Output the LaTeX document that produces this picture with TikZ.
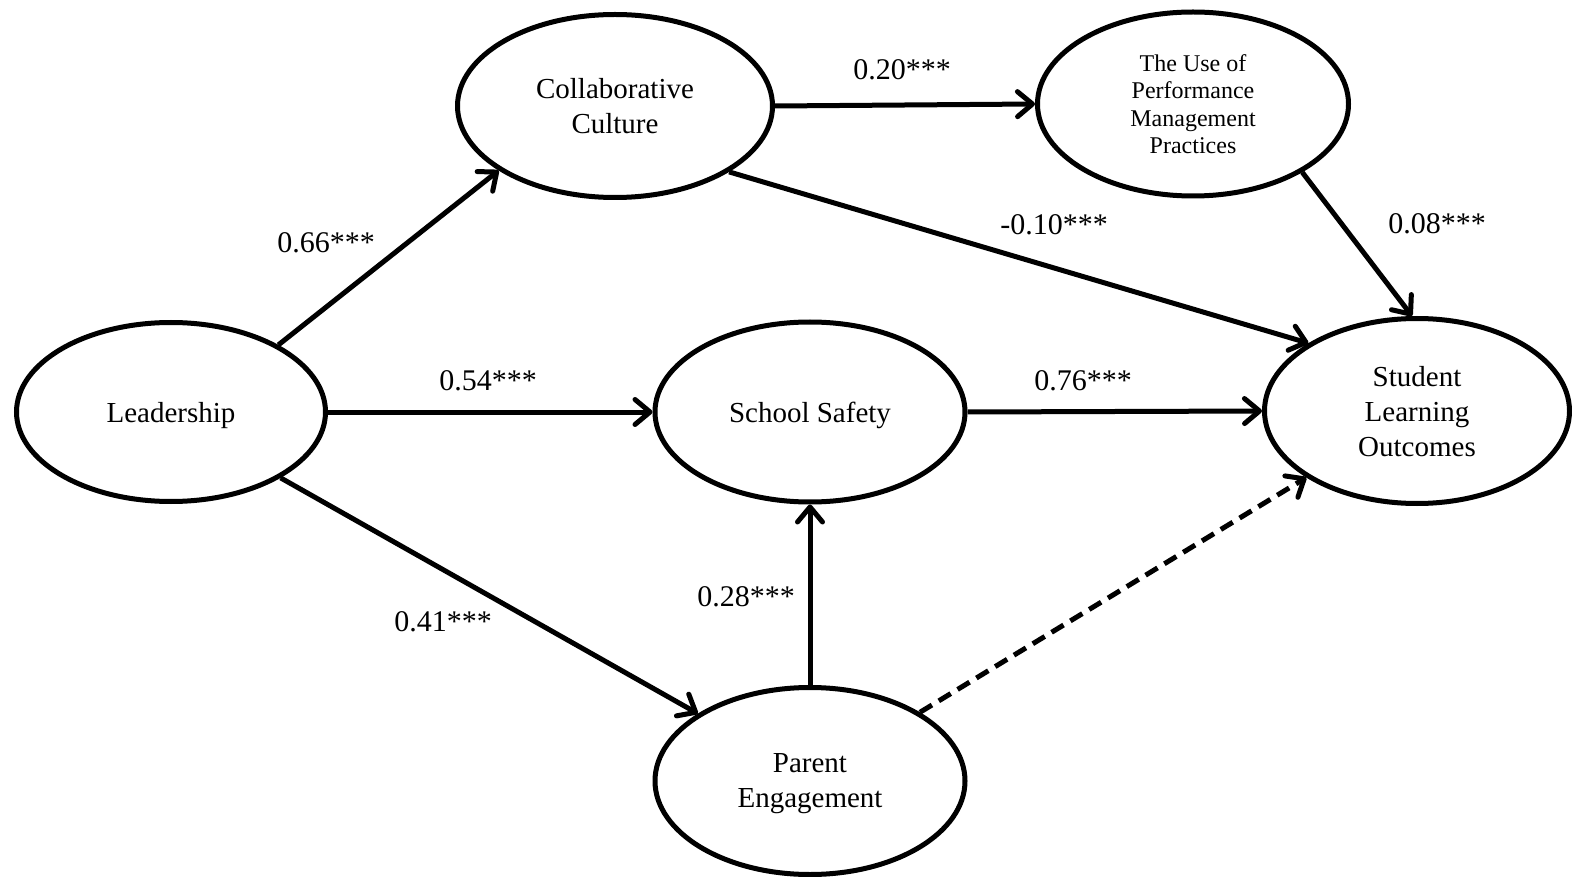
\documentclass[tikz,border=0pt]{standalone}
\usepackage{fontspec}
\setmainfont{Liberation Serif}
\usetikzlibrary{shapes.geometric,arrows.meta}
\begin{document}
\begin{tikzpicture}[x=1pt,y=-1pt,
  latent/.style={ellipse,draw,line width=5pt,inner sep=0pt,align=center,text depth=0pt,
    font=\fontsize{29}{35}\selectfont},
  path/.style={line width=5pt,-{Straight Barb[length=15pt,width=25pt,round]}},
  coef/.style={font=\fontsize{30}{36}\selectfont,inner sep=0pt}]
\useasboundingbox (0,0) rectangle (1572,877);
\node[latent,minimum width=309pt,minimum height=179pt] (lead) at (171,412) {Leadership};
\node[latent,minimum width=315pt,minimum height=183pt] (collab) at (615,106) {Collaborative\\Culture};
\node[latent,minimum width=311pt,minimum height=184pt,font=\fontsize{24}{27.5}\selectfont] (pmp) at (1193,104) {The Use of\\Performance\\Management\\Practices};
\node[latent,minimum width=310pt,minimum height=180pt] (ss) at (810,412) {School Safety};
\node[latent,minimum width=305pt,minimum height=185pt] (slo) at (1417,411) {Student\\Learning\\Outcomes};
\node[latent,minimum width=310pt,minimum height=187pt] (pe) at (810,781) {Parent\\Engagement};

\draw[path] (lead.32) -- (collab.209);
\draw[path] (lead.east) -- (ss.west);
\draw[path] (lead.-31) -- (pe.149);
\draw[path] (collab.east) -- (pmp.west);
\draw[path] (collab.-30.5) -- (slo.148.5);
\draw[path] (pmp.-32) -- (slo.93);
\draw[path] (ss.east) -- (slo.west);
\draw[path] (pe.north) -- (ss.south);
\draw[path,dash pattern=on 14pt off 8pt] (pe.32.5) -- (slo.211);

\node[coef] (c1) at (326,243) {0.66***};
\node[coef] (c2) at (902,70) {0.20***};
\node[coef] (c3) at (1054,225) {-0.10***};
\node[coef] (c4) at (1437,224) {0.08***};
\node[coef] (c5) at (488,381) {0.54***};
\node[coef] (c6) at (1083,381) {0.76***};
\node[coef] (c7) at (443,622) {0.41***};
\node[coef] (c8) at (746,597) {0.28***};
\end{tikzpicture}
\end{document}
